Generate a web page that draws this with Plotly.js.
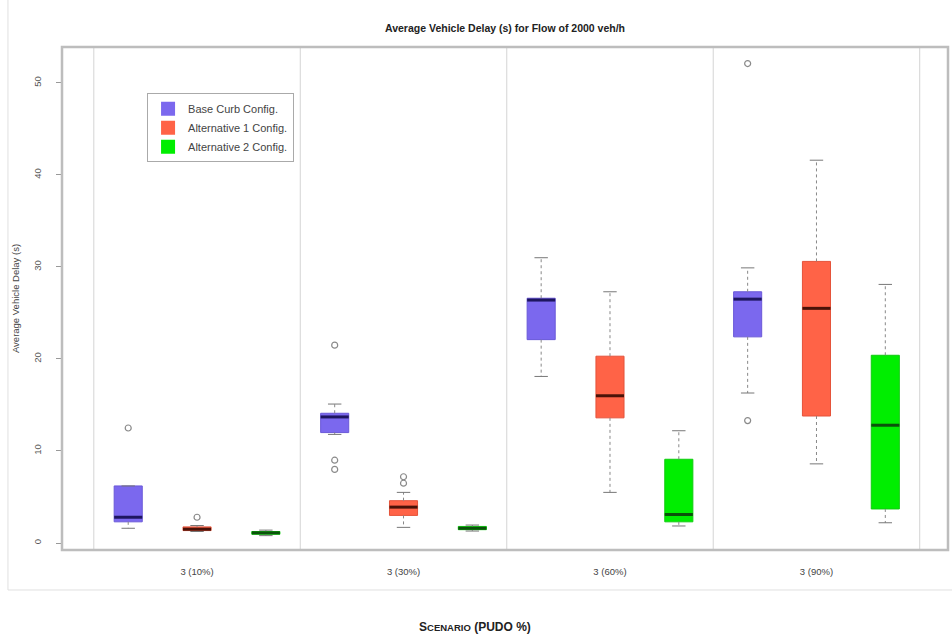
<!DOCTYPE html>
<html>
<head>
<meta charset="utf-8">
<script src="https://cdn.plot.ly/plotly-3.0.1.min.js"></script>
<style>html,body{margin:0;padding:0;background:#fff;}#chart{width:952px;height:641px;}</style>
</head>
<body>
<div id="chart"></div>
<script>
// ---- data ----
const categories = ["3 (10%)", "3 (30%)", "3 (60%)", "3 (90%)"];
const configNames = ["Base Curb Config.", "Alternative 1 Config.", "Alternative 2 Config."];
const yTicks = [0, 10, 20, 30, 40, 50];

const baseLower  = [1.6, 11.8, 18.1, 16.3];
const baseQ1     = [2.3, 12.0, 22.1, 22.4];
const baseMedian = [2.8, 13.7, 26.4, 26.5];
const baseQ3     = [6.2, 14.1, 26.6, 27.3];
const baseUpper  = [6.2, 15.1, 31.0, 29.9];
const baseOut    = [[12.5], [21.5, 9.0, 8.0], [], [52.1, 13.3]];

const alt1Lower  = [1.25, 1.7, 5.5, 8.6];
const alt1Q1     = [1.35, 3.0, 13.6, 13.8];
const alt1Median = [1.5, 3.9, 16.0, 25.5];
const alt1Q3     = [1.75, 4.6, 20.3, 30.6];
const alt1Upper  = [1.9, 5.5, 27.3, 41.6];
const alt1Out    = [[2.8], [6.5, 7.2], [], []];

const alt2Lower  = [0.8, 1.3, 1.85, 2.2];
const alt2Q1     = [0.95, 1.45, 2.3, 3.7];
const alt2Median = [1.1, 1.6, 3.1, 12.8];
const alt2Q3     = [1.25, 1.8, 9.1, 20.4];
const alt2Upper  = [1.4, 1.95, 12.2, 28.1];
const alt2Out    = [[], [], [], []];

// ---- styles ----
const fills   = ["#7B68EE", "#FF6347", "#00EE00"];
const borders = ["#6a58d8", "#e5533a", "#10cc10"];
const medCols = ["#1e1660", "#4a1208", "#0b520b"];
const offsets = [-1/3, 0, 1/3];
const boxW = 0.136, capW = 0.065;

const series = [
  {lower: baseLower, q1: baseQ1, med: baseMedian, q3: baseQ3, upper: baseUpper, out: baseOut},
  {lower: alt1Lower, q1: alt1Q1, med: alt1Median, q3: alt1Q3, upper: alt1Upper, out: alt1Out},
  {lower: alt2Lower, q1: alt2Q1, med: alt2Median, q3: alt2Q3, upper: alt2Upper, out: alt2Out}
];

const traces = [];
series.forEach((s, k) => {
  const pos = categories.map((c, i) => i + 1 + offsets[k]);
  const wx = [], wy = [], cx = [], cy = [], mx = [], my = [], ox = [], oy = [];
  pos.forEach((p, i) => {
    wx.push(p, p, null, p, p, null);
    wy.push(s.q3[i], s.upper[i], null, s.q1[i], s.lower[i], null);
    cx.push(p - capW/2, p + capW/2, null, p - capW/2, p + capW/2, null);
    cy.push(s.upper[i], s.upper[i], null, s.lower[i], s.lower[i], null);
    mx.push(p - boxW/2, p + boxW/2, null);
    my.push(s.med[i], s.med[i], null);
    s.out[i].forEach(v => { ox.push(p); oy.push(v); });
  });
  traces.push({type: "scatter", mode: "lines", x: wx, y: wy, showlegend: false, hoverinfo: "skip",
    line: {color: "#888", width: 1, dash: "3px,3px"}});
  traces.push({type: "scatter", mode: "lines", x: cx, y: cy, showlegend: false, hoverinfo: "skip",
    line: {color: "#777", width: 1}});
  traces.push({type: "box", name: configNames[k], x: pos, q1: s.q1, median: s.med, q3: s.q3,
    lowerfence: s.q1, upperfence: s.q3, width: boxW, boxpoints: false, showlegend: false,
    fillcolor: fills[k], line: {color: borders[k], width: 1}, whiskerwidth: 0});
  traces.push({type: "scatter", mode: "lines", x: mx, y: my, showlegend: false, hoverinfo: "skip",
    line: {color: medCols[k], width: 3}});
  traces.push({type: "scatter", mode: "markers", x: ox, y: oy, showlegend: false,
    marker: {symbol: "circle-open", size: 6, color: "#8a8a8a", line: {width: 1.2}}});
});
// legend entries
configNames.forEach((n, k) => {
  traces.push({type: "scatter", mode: "markers", name: n, x: [null], y: [null],
    marker: {symbol: "square", size: 14, color: fills[k]}});
});

// separators between groups
const shapes = [];
for (let i = 0; i <= categories.length; i++) {
  shapes.push({type: "line", xref: "x", yref: "paper", x0: i + 0.5, x1: i + 0.5, y0: 0, y1: 1,
    line: {color: "#d4d4d4", width: 1}, layer: "below"});
}
shapes.push({type: "rect", xref: "paper", yref: "paper", x0: 0, x1: 1, y0: 0, y1: 1,
  line: {color: "#bdbdbd", width: 2.5}, layer: "above"});
// outer frame
shapes.push({type: "line", xref: "paper", yref: "paper", x0: -0.061, x1: -0.061, y0: -0.0795, y1: 1.1,
  line: {color: "#e0e0e0", width: 1}});
shapes.push({type: "line", xref: "paper", yref: "paper", x0: -0.061, x1: 1.01, y0: -0.0795, y1: -0.0795,
  line: {color: "#e0e0e0", width: 1}});

const font = "Liberation Sans, Arial, sans-serif";
const layout = {
  width: 952, height: 641,
  margin: {l: 62, r: 4, t: 47, b: 91},
  paper_bgcolor: "#fff", plot_bgcolor: "#fff",
  font: {family: font, color: "#333"},
  title: {text: "<b>Average Vehicle Delay (s) for Flow of 2000 veh/h</b>",
    font: {size: 10.5, color: "#222"}, x: 0.5305, xanchor: "center", y: 0.956, yanchor: "middle"},
  showlegend: true,
  legend: {x: 0.096, y: 0.908, xanchor: "left", yanchor: "top", bgcolor: "#fff",
    bordercolor: "#aaa", borderwidth: 1, font: {size: 11, color: "#444"},
    itemwidth: 30, tracegroupgap: 0},
  xaxis: {range: [0.346, 4.637], tickvals: categories.map((c, i) => i + 1), ticktext: categories,
    showgrid: false, zeroline: false, showline: false, ticks: "outside", ticklen: 13,
    tickcolor: "rgba(0,0,0,0)", tickfont: {size: 9.5, color: "#444"}},
  yaxis: {range: [-0.76, 53.9], tickvals: yTicks, showgrid: false, zeroline: false, showline: false,
    ticks: "outside", ticklen: 5, tickcolor: "#999", tickangle: -90,
    tickfont: {size: 9.5, color: "#555"}, ticklabelstandoff: 11,
    title: {text: "Average Vehicle Delay (s)", font: {size: 9.5, color: "#444"}, standoff: 10}},
  shapes: shapes,
  annotations: [{xref: "paper", yref: "paper", x: 0.466, y: -0.153, xanchor: "center", yanchor: "middle",
    showarrow: false, text: "<b>S<span style='font-size:9.5px'>CENARIO</span> (PUDO %)</b>",
    font: {size: 12, color: "#222", family: font}}]
};

Plotly.newPlot("chart", traces, layout, {displayModeBar: false, staticPlot: true});
</script>
</body>
</html>
